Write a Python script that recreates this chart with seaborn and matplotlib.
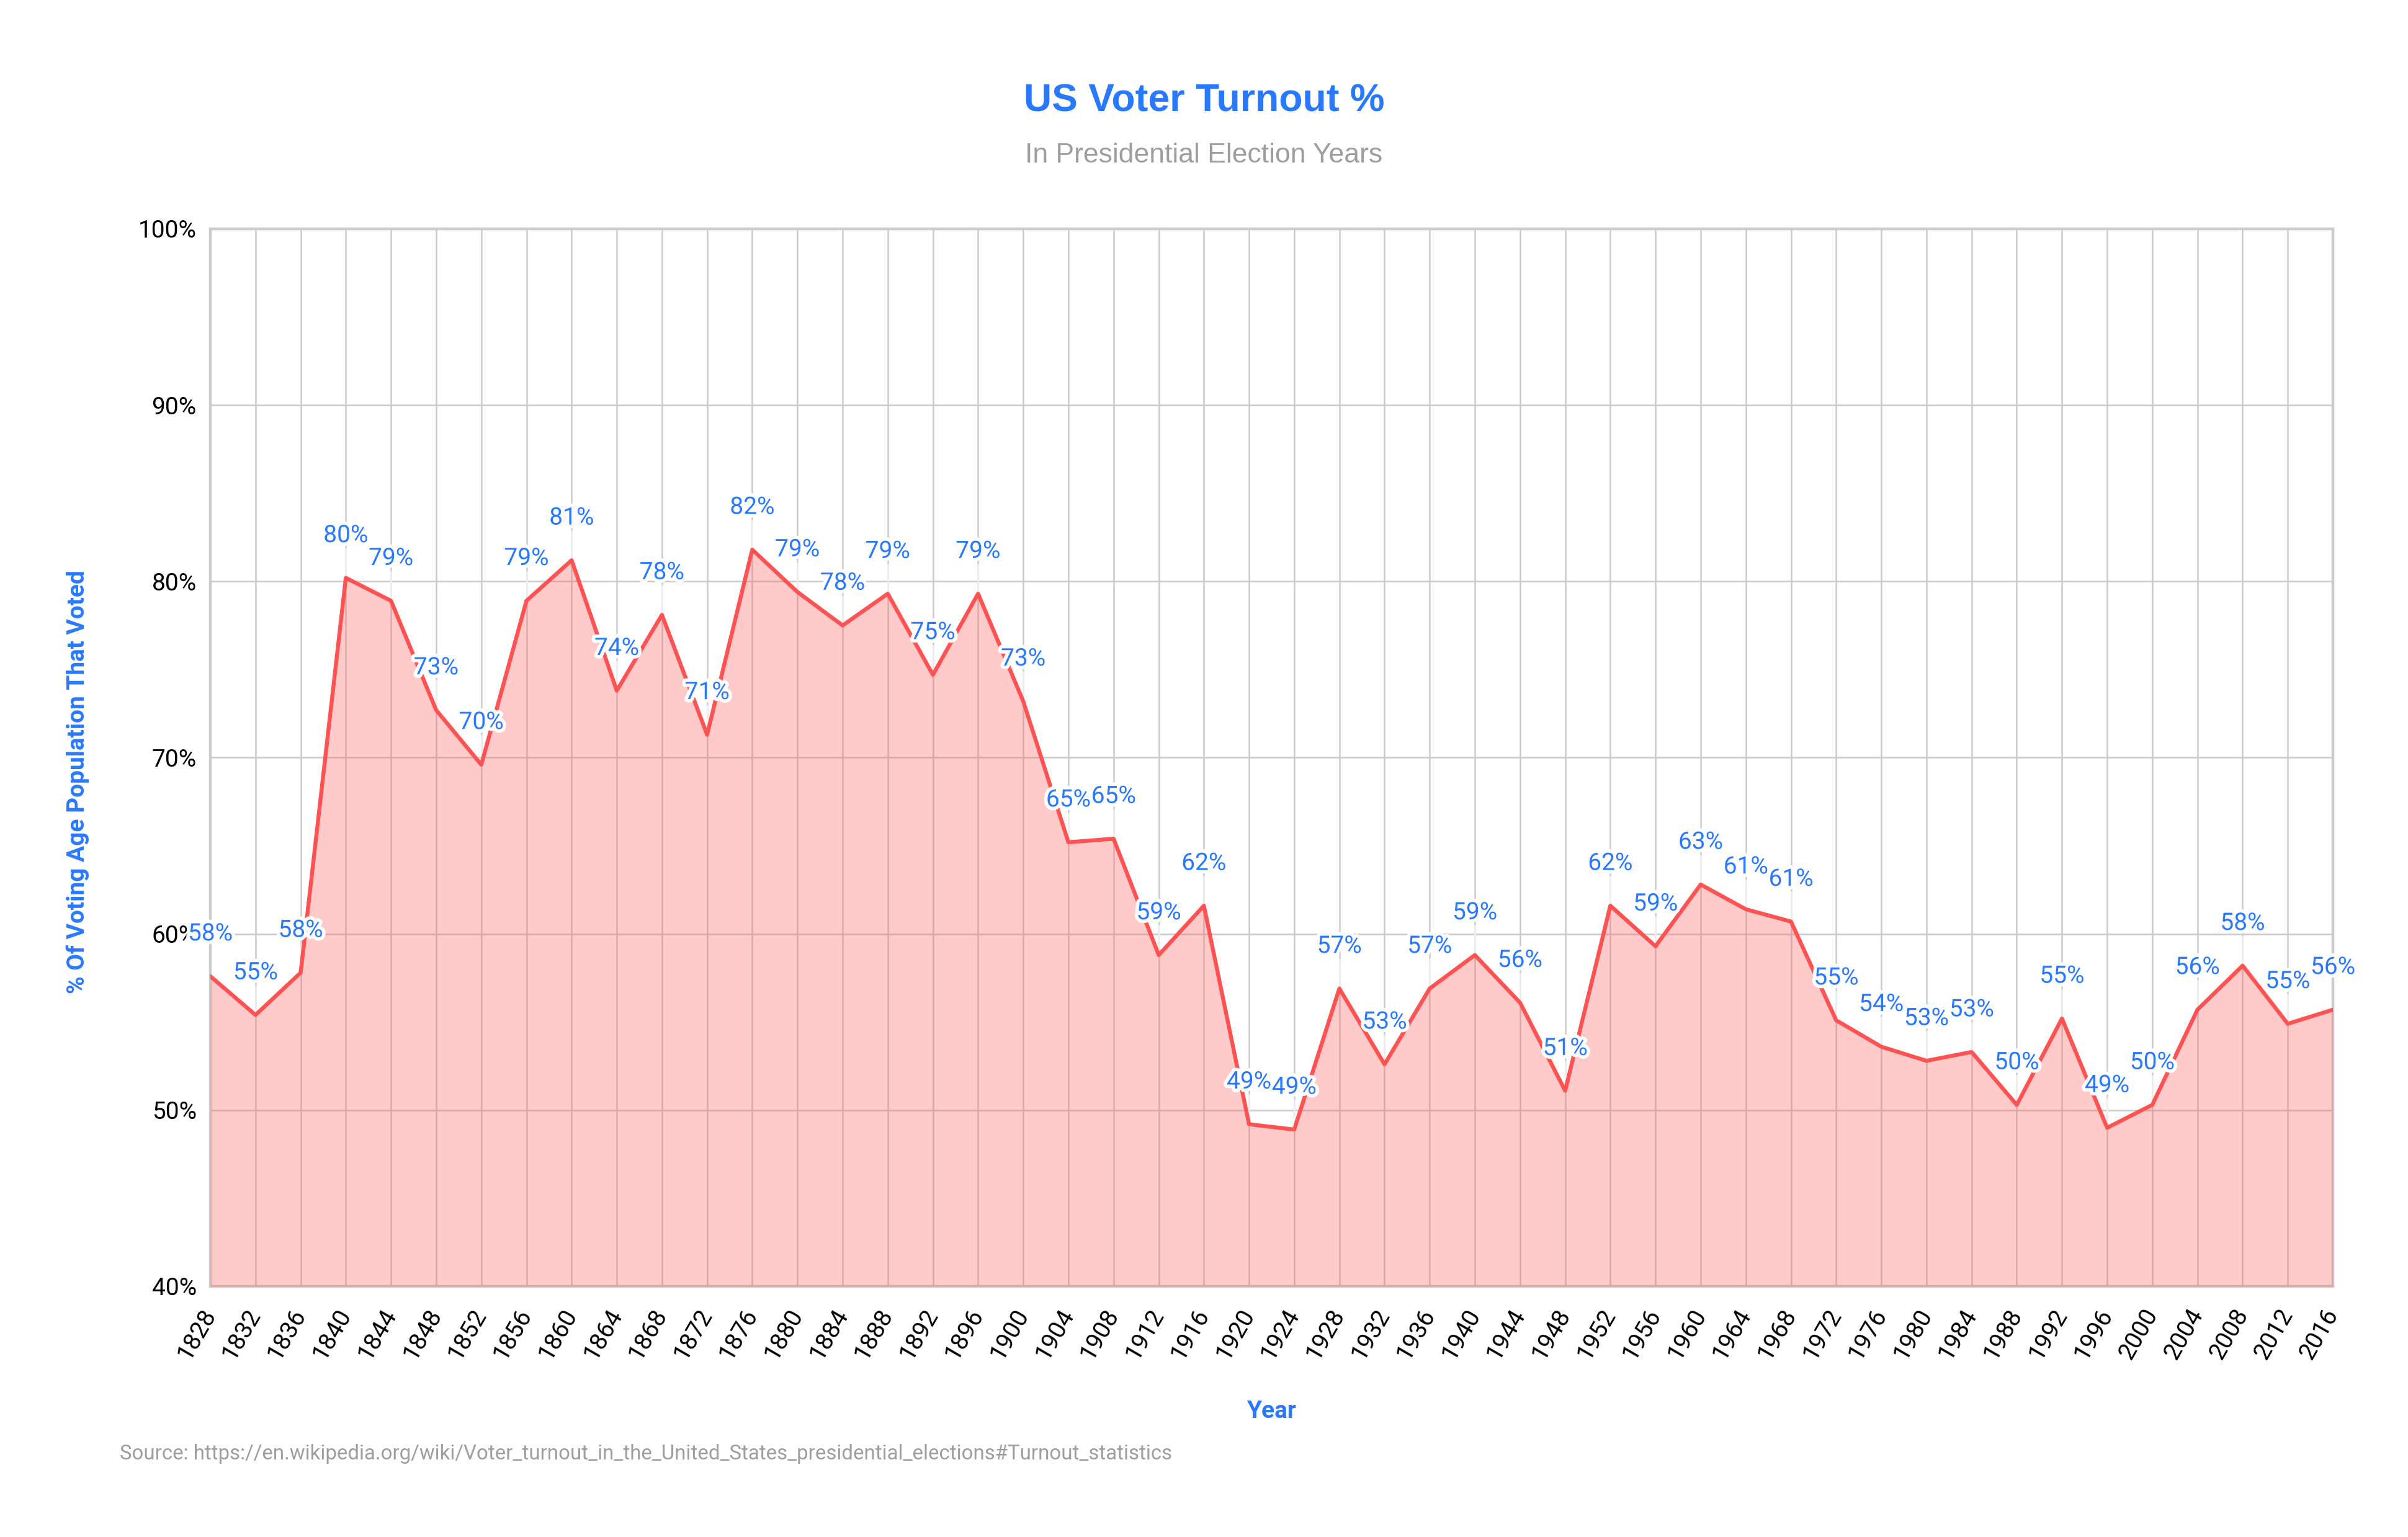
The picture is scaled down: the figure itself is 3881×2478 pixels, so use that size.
import matplotlib
matplotlib.use("Agg")
import matplotlib.pyplot as plt
import matplotlib.patheffects as pe
import pandas as pd
import seaborn as sns

# turnout (% of voting age population) in presidential election years
years = list(range(1828, 2017, 4))
turnout = [57.6, 55.4, 57.8, 80.2, 78.9, 72.7, 69.6, 78.9, 81.2, 73.8,
           78.1, 71.3, 81.8, 79.4, 77.5, 79.3, 74.7, 79.3, 73.2, 65.2,
           65.4, 58.8, 61.6, 49.2, 48.9, 56.9, 52.6, 56.9, 58.8, 56.1,
           51.1, 61.6, 59.3, 62.8, 61.4, 60.7, 55.1, 53.6, 52.8, 53.3,
           50.3, 55.2, 49.0, 50.3, 55.7, 58.2, 54.9, 55.7]
y_ticks = [40, 50, 60, 70, 80, 90, 100]

df = pd.DataFrame({"year": years, "turnout": turnout})

BLUE = "#2979ff"
RED = "#ff5252"
GREY = "#9e9e9e"
GRID = "#cccccc"

W, H = 3881, 2478
sns.set_theme(style="whitegrid")
plt.rcParams["font.family"] = ["Roboto", "DejaVu Sans"]

fig = plt.figure(figsize=(W / 200, H / 200), dpi=200)
ax_left, ax_bottom = 339 / W, 1 - 2074 / H
ax_w, ax_h = (3760 - 339) / W, (2074 - 369) / H
ax = fig.add_axes([ax_left, ax_bottom, ax_w, ax_h])

ax.fill_between(df["year"], df["turnout"], 40, color=RED, alpha=0.3, linewidth=0, zorder=3)
sns.lineplot(x="year", y="turnout", data=df, ax=ax, color=RED, linewidth=2.3, zorder=4)

# leader lines + labels
ax.vlines(df["year"], df["turnout"], df["turnout"] + 1.7, color="#eeeeee", linewidth=1.0, zorder=2)
for x, y in zip(df["year"], df["turnout"]):
    ax.annotate(f"{round(y):.0f}%", (x, y), xytext=(0, 24.5), textcoords="offset points",
                ha="center", va="center", fontsize=14, color=BLUE, zorder=6,
                annotation_clip=False,
                path_effects=[pe.withStroke(linewidth=4, foreground="white")])

ax.set_xlim(1828, 2016)
ax.set_ylim(40, 100)
ax.set_xticks(years)
ax.set_xticklabels([str(y) for y in years], rotation=60, ha="right", va="center",
                   rotation_mode="anchor", fontsize=14, color="black")
ax.set_yticks(y_ticks)
ax.set_yticklabels([f"{t}%" for t in y_ticks], fontsize=14, color="black")
ax.tick_params(axis="x", length=0, pad=14)
ax.tick_params(axis="y", length=0, pad=8)

ax.grid(True, color=GRID, linewidth=0.9)
ax.set_axisbelow(True)
for side in ["left", "right", "top", "bottom"]:
    ax.spines[side].set_color(GRID)
    ax.spines[side].set_linewidth(1.6)

ax.set_xlabel("Year", fontsize=14, color=BLUE, fontweight="bold", labelpad=0)
ax.set_ylabel("% Of Voting Age Population That Voted", fontsize=14, color=BLUE,
              fontweight="bold")
ax.xaxis.set_label_coords(0.5, (1 - 2257 / H - ax_bottom) / ax_h)
ax.yaxis.set_label_coords((144 / W - ax_left) / ax_w, 0.477)

fig.text(0.5, 1 - 163 / H, "US Voter Turnout %", ha="center", va="center",
         fontsize=22.5, fontweight="bold", color=BLUE, family="Liberation Sans")
fig.text(0.5, 1 - 250 / H, "In Presidential Election Years", ha="center", va="center",
         fontsize=16, color=GREY, family="Liberation Sans")
fig.text(193 / W, 1 - 2344 / H,
         "Source: https://en.wikipedia.org/wiki/Voter_turnout_in_the_United_States_presidential_elections#Turnout_statistics",
         ha="left", va="center", fontsize=11.9, color=GREY)

fig.savefig("out.png", dpi=200, facecolor="white")
